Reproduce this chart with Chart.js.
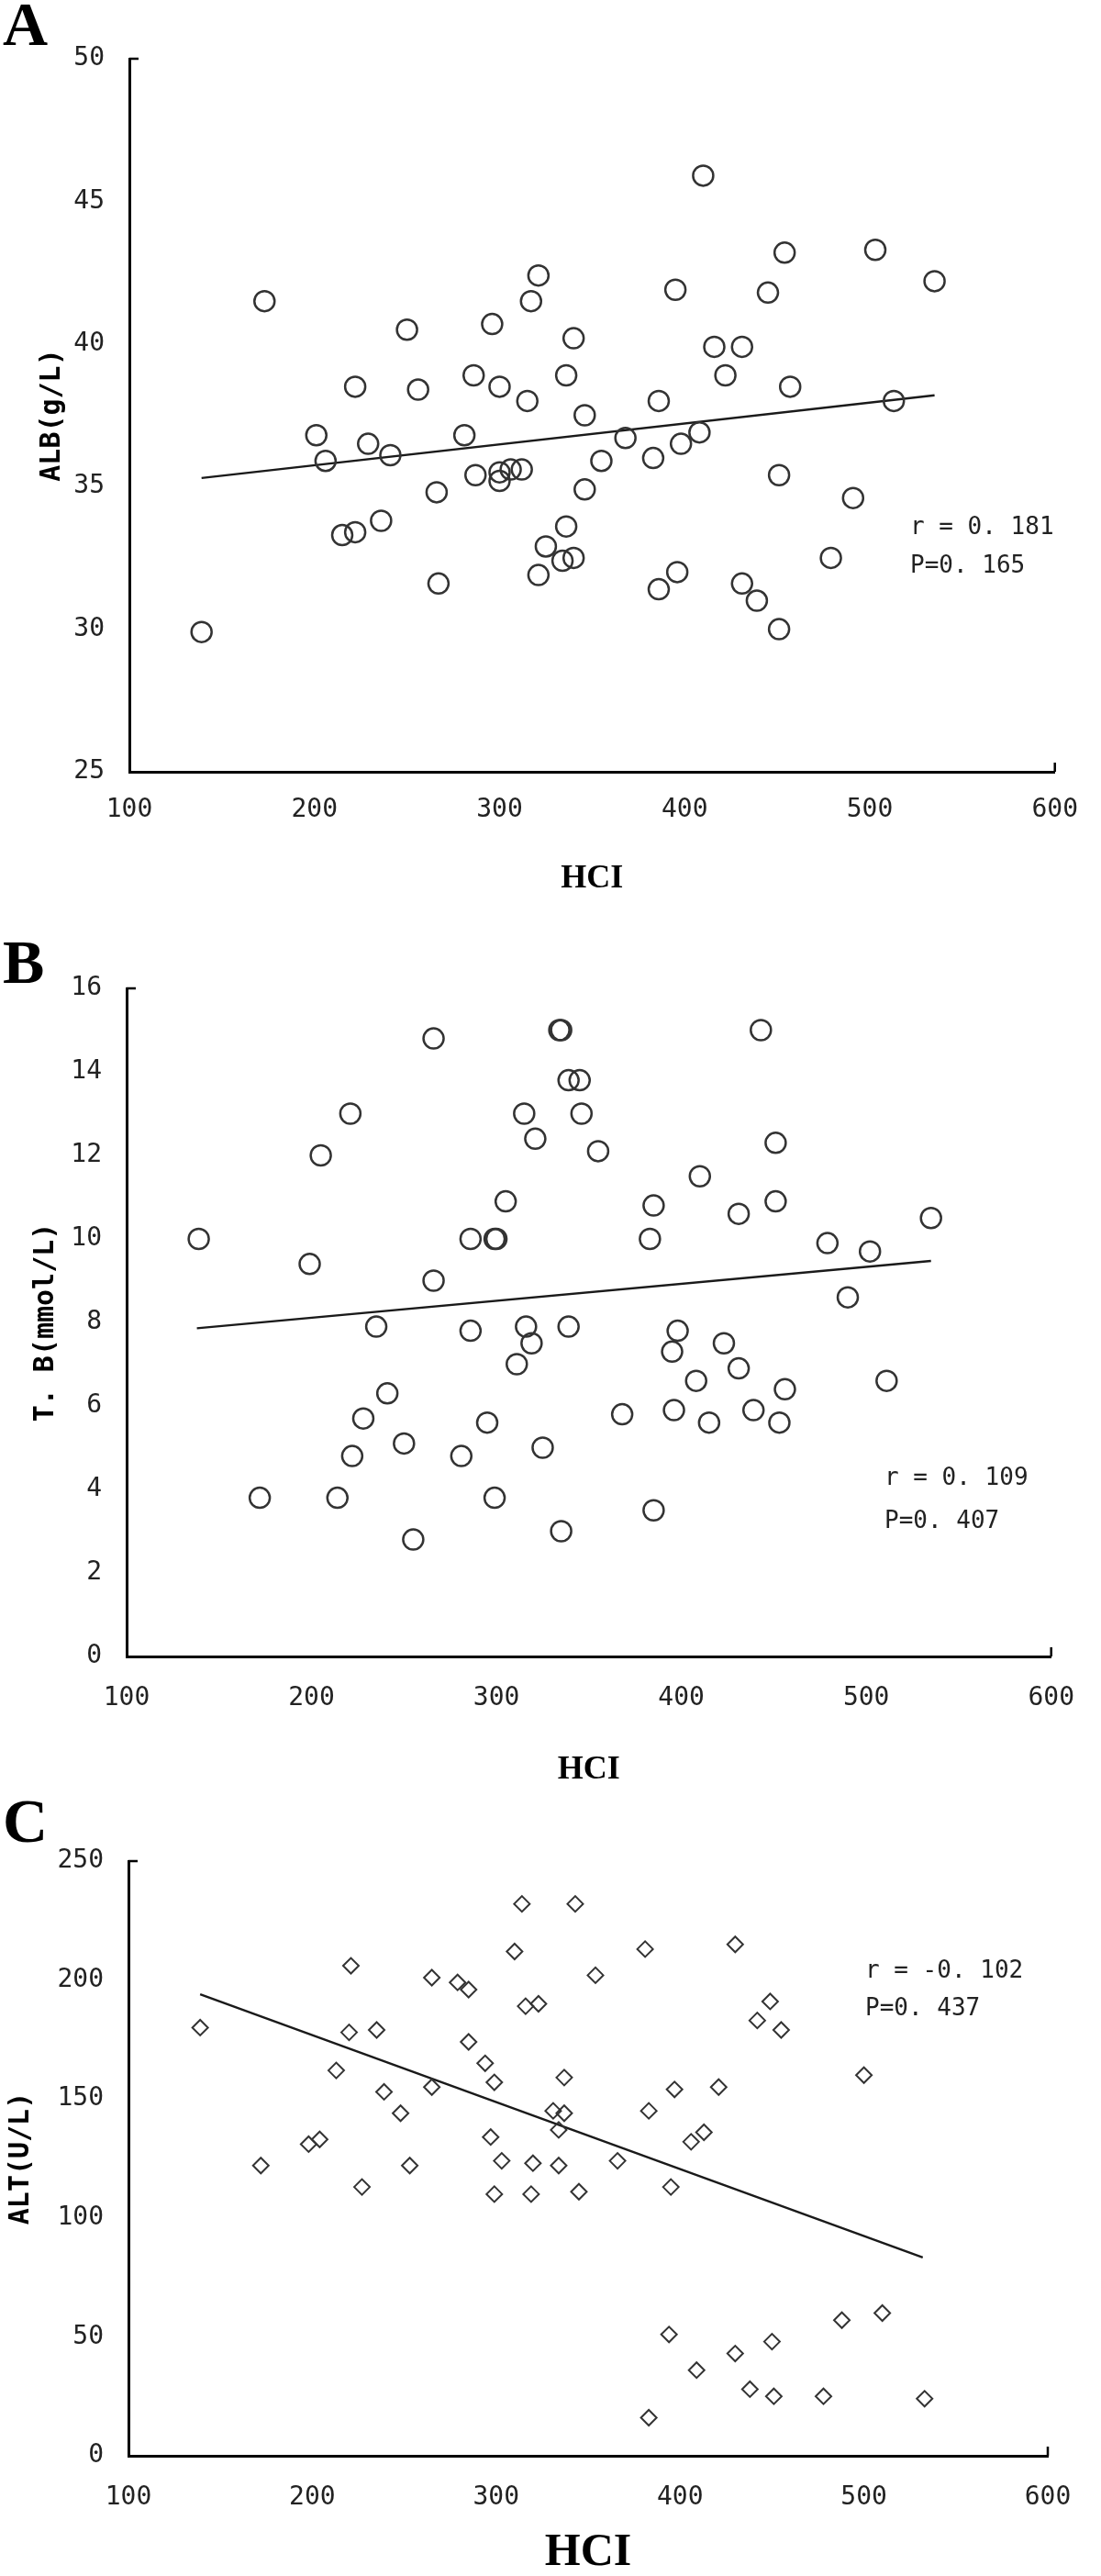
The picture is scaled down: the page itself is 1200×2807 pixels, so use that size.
<!DOCTYPE html>
<html>
<head>
<meta charset="utf-8">
<script src="https://cdn.jsdelivr.net/npm/chart.js@4.4.1/dist/chart.umd.min.js"></script>
<style>
body { margin: 0; background: #fff; }
#page { position: relative; width: 1200px; height: 2807px; overflow: hidden; }
canvas { position: absolute; left: 0; }
.tag { position: absolute; left: 3px; font: bold 68px "Liberation Serif"; line-height: 1; color: #000; }
.stat { position: absolute; font: 26px "DejaVu Sans Mono"; line-height: 1; color: #222; white-space: pre; }
</style>
</head>
<body>
<div id="page">
  <canvas id="chartA" width="1200" height="1000" style="top:0"></canvas>
  <canvas id="chartB" width="1200" height="950" style="top:1000px"></canvas>
  <canvas id="chartC" width="1200" height="857" style="top:1950px"></canvas>

  <div class="tag" style="top:-8px">A</div>
  <div class="tag" style="top:1014px">B</div>
  <div class="tag" style="top:1950px">C</div>

  <div class="stat" style="left:992px;top:560px">r = 0. 181</div>
  <div class="stat" style="left:992px;top:602px">P=0. 165</div>
  <div class="stat" style="left:964px;top:1596px">r = 0. 109</div>
  <div class="stat" style="left:964px;top:1643px">P=0. 407</div>
  <div class="stat" style="left:943px;top:2133px">r = -0. 102</div>
  <div class="stat" style="left:943px;top:2174px">P=0. 437</div>
</div>
<script>
// A: HCI vs ALB (g/L)
var hciA = [139, 173, 201, 206, 215, 222, 222, 229, 236, 241, 250, 256, 266, 267, 281, 286, 287, 296, 300, 300,
            300, 306, 312, 315, 317, 321, 321, 325, 334, 336, 336, 340, 340, 346, 346, 355, 368, 383, 386, 386,
            395, 396, 398, 408, 410, 416, 422, 431, 431, 439, 445, 451, 451, 454, 457, 479, 491, 503, 513, 535];
var albA = [29.9, 41.5, 36.8, 35.9, 33.3, 33.4, 38.5, 36.5, 33.8, 36.1, 40.5, 38.4, 34.8, 31.6, 36.8, 38.9, 35.4, 40.7, 38.5, 35.2,
            35.5, 35.6, 35.6, 38.0, 41.5, 42.4, 31.9, 32.9, 32.4, 33.6, 38.9, 32.5, 40.2, 37.5, 34.9, 35.9, 36.7, 36.0, 31.4, 38.0,
            41.9, 32.0, 36.5, 36.9, 45.9, 39.9, 38.9, 39.9, 31.6, 31.0, 41.8, 30.0, 35.4, 43.2, 38.5, 32.5, 34.6, 43.3, 38.0, 42.2];
var fitAx = [139, 535];
var fitAy = [35.3, 38.2];

// B: HCI vs T.B
var hciB = [139, 172, 199, 205, 214, 221, 222, 228, 235, 241, 250, 255, 266, 266, 281, 286, 286, 295, 299, 300,
            299, 305, 311, 315, 316, 319, 321, 325, 334, 335, 335, 339, 339, 345, 346, 355, 368, 383, 385, 385,
            395, 396, 398, 408, 410, 415, 423, 431, 431, 439, 443, 451, 451, 453, 456, 479, 490, 502, 511, 535];
var tbB = [10.0, 3.8, 9.4, 12.0, 3.8, 13.0, 4.8, 5.7, 7.9, 6.3, 5.1, 2.8, 14.8, 9.0, 4.8, 10.0, 7.8, 5.6, 10.0, 10.0,
           3.8, 10.9, 7.0, 13.0, 7.9, 7.5, 12.4, 5.0, 15.0, 15.0, 3.0, 13.8, 7.9, 13.8, 13.0, 12.1, 5.8, 10.0, 10.8, 3.5,
           7.3, 5.9, 7.8, 6.6, 11.5, 5.6, 7.5, 10.6, 6.9, 5.9, 15.0, 12.3, 10.9, 5.6, 6.4, 9.9, 8.6, 9.7, 6.6, 10.5];
var fitBx = [138, 535];
var fitBy = [7.86, 9.47];

// C: HCI vs ALT (U/L)
var hciC = [139, 172, 198, 204, 213, 220, 221, 227, 235, 239, 248, 253, 265, 265, 279, 285, 285, 294, 297, 299,
            299, 303, 310, 314, 316, 319, 320, 323, 331, 334, 334, 337, 337, 343, 345, 354, 366, 381, 383, 383,
            394, 395, 397, 406, 409, 413, 421, 430, 430, 438, 442, 449, 450, 451, 455, 478, 488, 500, 510, 533];
var altC = [180, 122, 131, 133, 162, 178, 206, 113, 179, 153, 144, 122, 155, 201, 199, 196, 174, 165, 134, 157,
            110, 124, 212, 232, 189, 110, 123, 190, 145, 137, 122, 159, 144, 232, 111, 202, 124, 213, 145, 16,
            51, 113, 154, 132, 36, 136, 155, 215, 43, 28, 183, 191, 48, 25, 179, 25, 57, 160, 60, 24];
var fitCx = [139, 532];
var fitCy = [194, 83.4];

var xTicks = [100, 200, 300, 400, 500, 600];

function pts(xs, ys) {
  return xs.map(function (x, i) { return { x: x, y: ys[i] }; });
}

// little end marks at the top of the y axis and the right end of the x axis
var endTicks = {
  id: 'endTicks',
  afterDraw: function (chart) {
    var a = chart.chartArea, ctx = chart.ctx;
    ctx.save();
    ctx.strokeStyle = '#000';
    ctx.lineWidth = 2.5;
    ctx.beginPath();
    ctx.moveTo(a.left, a.top);
    ctx.lineTo(a.left + 10, a.top);
    ctx.moveTo(a.right, a.bottom);
    ctx.lineTo(a.right, a.bottom - 10);
    ctx.stroke();
    ctx.restore();
  }
};

function makeChart(id, c) {
  new Chart(document.getElementById(id), {
    type: 'scatter',
    data: {
      datasets: [{
        data: pts(c.x, c.y),
        pointStyle: c.style,
        pointRadius: c.radius,
        pointHoverRadius: c.radius,
        borderWidth: c.bw,
        borderColor: '#333',
        backgroundColor: 'rgba(0,0,0,0)'
      }, {
        type: 'line',
        data: pts(c.fitX, c.fitY),
        borderColor: '#1a1a1a',
        borderWidth: 2.5,
        pointRadius: 0,
        fill: false
      }]
    },
    options: {
      responsive: false,
      animation: false,
      devicePixelRatio: 1,
      layout: { padding: { top: c.top, right: c.right, left: 0, bottom: 0 } },
      plugins: { legend: { display: false }, tooltip: { enabled: false } },
      scales: {
        x: {
          type: 'linear',
          min: xTicks[0],
          max: xTicks[xTicks.length - 1],
          afterBuildTicks: function (s) { s.ticks = xTicks.map(function (v) { return { value: v }; }); },
          ticks: { padding: c.xPad, color: '#222', font: { family: 'DejaVu Sans Mono', size: 28 } },
          grid: { display: false, drawTicks: false },
          border: { color: '#000', width: 3 },
          title: {
            display: true, text: 'HCI', color: '#000',
            font: { family: 'Liberation Serif', weight: 'bold', size: c.xTitleSize, lineHeight: 1 },
            padding: { top: 0, bottom: c.xTitlePad }
          },
          afterFit: function (s) { s.height = c.xH; }
        },
        y: {
          type: 'linear',
          min: c.yTicks[0],
          max: c.yTicks[c.yTicks.length - 1],
          afterBuildTicks: function (s) { s.ticks = c.yTicks.map(function (v) { return { value: v }; }); },
          ticks: { padding: 27, color: '#222', font: { family: 'DejaVu Sans Mono', size: 28 } },
          grid: { display: false, drawTicks: false },
          border: { color: '#000', width: 3 },
          title: {
            display: true, text: c.yTitle, color: '#000',
            font: { family: 'DejaVu Sans Mono', weight: 'bold', size: 30, lineHeight: 1.2 },
            padding: { top: c.yTitlePad, bottom: 0 }
          },
          afterFit: function (s) { s.width = c.yW; }
        }
      }
    },
    plugins: [endTicks]
  });
}

makeChart('chartA', {
  x: hciA, y: albA, fitX: fitAx, fitY: fitAy,
  style: 'circle', radius: 11, bw: 2.5,
  yTicks: [25, 30, 35, 40, 45, 50], yTitle: 'ALB(g/L)',
  top: 64, right: 27, yW: 141, xH: 159, xPad: 25,
  xTitleSize: 36, xTitlePad: 24, yTitlePad: 39
});

makeChart('chartB', {
  x: hciB, y: tbB, fitX: fitBx, fitY: fitBy,
  style: 'circle', radius: 11, bw: 2.5,
  yTicks: [0, 2, 4, 6, 8, 10, 12, 14, 16], yTitle: 'T. B(mmol/L)',
  top: 77, right: 27, yW: 138, xH: 145, xPad: 29,
  xTitleSize: 36, xTitlePad: 3, yTitlePad: 32
});

makeChart('chartC', {
  x: hciC, y: altC, fitX: fitCx, fitY: fitCy,
  style: 'rectRot', radius: 8.5, bw: 2,
  yTicks: [0, 50, 100, 150, 200, 250], yTitle: 'ALT(U/L)',
  top: 78, right: 58, yW: 140, xH: 131, xPad: 29,
  xTitleSize: 50, xTitlePad: 0, yTitlePad: 5
});
</script>
</body>
</html>
